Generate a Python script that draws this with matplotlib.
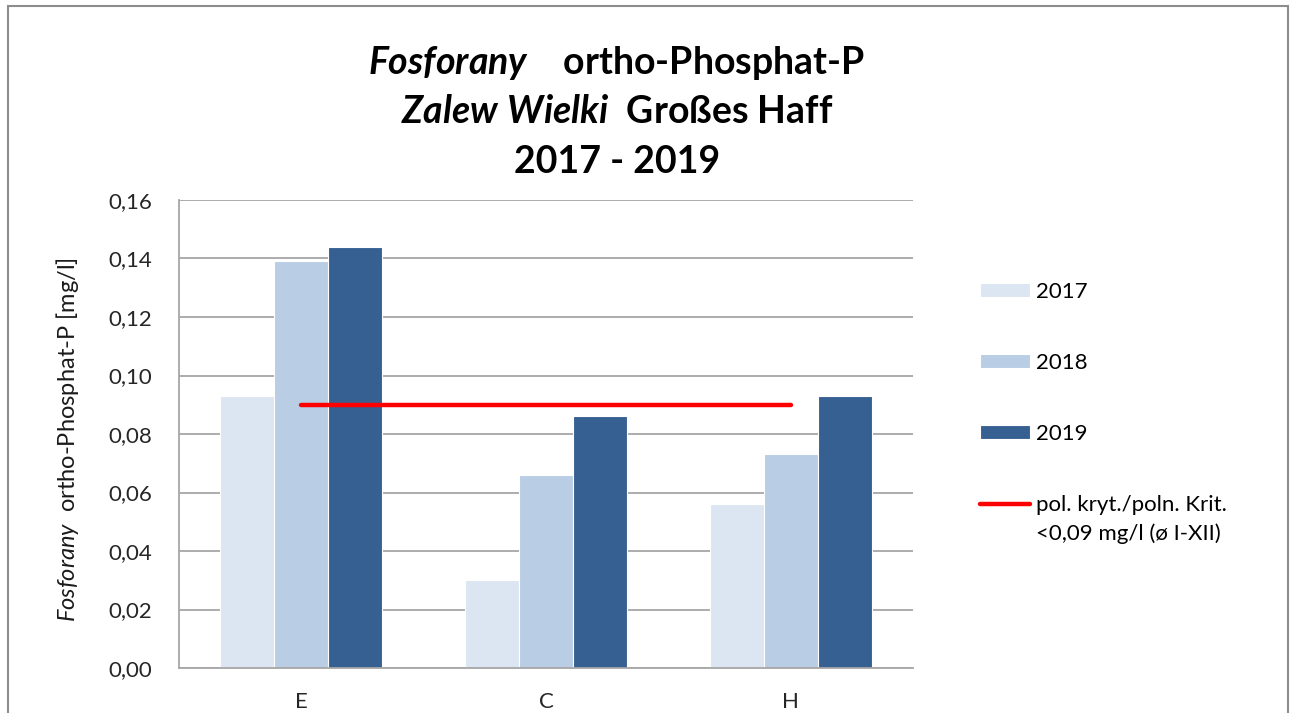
import matplotlib
matplotlib.use('Agg')
import matplotlib.pyplot as plt
import matplotlib.patches as patches
import numpy as np

# data
stations = ['E', 'C', 'H']
years = ['2017', '2018', '2019']
values_2017 = [0.093, 0.030, 0.056]
values_2018 = [0.139, 0.066, 0.073]
values_2019 = [0.144, 0.086, 0.093]
criterion = 0.09
yticks = [0.00, 0.02, 0.04, 0.06, 0.08, 0.10, 0.12, 0.14, 0.16]
ytick_labels = ['0,00', '0,02', '0,04', '0,06', '0,08', '0,10', '0,12', '0,14', '0,16']

colors = ['#DCE6F2', '#B9CDE5', '#366092']

plt.rcParams['font.family'] = ['Lato', 'DejaVu Sans']
plt.rcParams['mathtext.fontset'] = 'custom'
plt.rcParams['mathtext.it'] = 'Lato:italic'
plt.rcParams['mathtext.rm'] = 'Lato'
plt.rcParams['mathtext.bf'] = 'Lato:bold'
plt.rcParams['mathtext.bfit'] = 'Lato:italic:bold'

fig = plt.figure(figsize=(12.95, 7.13), dpi=100)
ax = fig.add_axes([179 / 1295, 1 - 668 / 713, (913 - 179) / 1295, (668 - 200) / 713])

# outer chart border (bottom edge is cut off in the original)
border = patches.Rectangle((8 / 1295, -0.1), 1280 / 1295, 1.1 - 6 / 713,
                           transform=fig.transFigure, fill=False,
                           edgecolor='#8C8C8C', linewidth=1.5, clip_on=False)
fig.patches.append(border)

x = np.arange(len(stations))
w = 0.221
series = [values_2017, values_2018, values_2019]
handles = []
for i, (vals, col, yr) in enumerate(zip(series, colors, years)):
    b = ax.bar(x + (i - 1) * w, vals, width=w, color=col,
               edgecolor='white', linewidth=0.8, label=yr, zorder=2)
    handles.append(b)

crit_line, = ax.plot(x, [criterion] * len(x), color='#FF0000', linewidth=3.2,
                     solid_capstyle='round', zorder=3,
                     label='pol. kryt./poln. Krit.')
handles.append(crit_line)

ax.set_xlim(-0.5, 2.5)
ax.set_ylim(0, 0.16)
ax.set_yticks(yticks)
ax.set_yticklabels(ytick_labels)
ax.set_xticks(x)
ax.set_xticklabels(stations)
ax.tick_params(axis='y', length=0, pad=19, labelsize=16, labelcolor='#262626')
ax.tick_params(axis='x', length=0, pad=17, labelsize=16, labelcolor='#262626')
ax.yaxis.grid(True, color='#A6A6A6', linewidth=1.3, zorder=0)
ax.set_axisbelow(True)
for side in ['top', 'right']:
    ax.spines[side].set_visible(False)
for side in ['left', 'bottom']:
    ax.spines[side].set_color('#A6A6A6')
    ax.spines[side].set_linewidth(1.3)

fig.text(68 / 1295, 1 - 440 / 713, r'$\mathit{Fosforany}$  ortho-Phosphat-P [mg/l]',
         rotation=90, ha='center', va='center', fontsize=17, color='#1a1a1a')

# title, three lines
title_x = 617 / 1295
fig.text(title_x, 1 - 63 / 713, r'$\mathbfit{Fosforany}$    ortho-Phosphat-P',
         ha='center', va='center', fontsize=27, fontweight='bold')
fig.text(title_x, 1 - 112 / 713, r'$\mathbfit{Zalew\ Wielki}$  Großes Haff',
         ha='center', va='center', fontsize=27, fontweight='bold')
fig.text(title_x, 1 - 162 / 713, '2017 - 2019',
         ha='center', va='center', fontsize=27, fontweight='bold')

leg = fig.legend(handles=handles, loc='upper left',
                 bbox_to_anchor=(980 / 1295, 1 - 282 / 713),
                 frameon=False, fontsize=16, handlelength=2.25, handleheight=0.58,
                 handletextpad=0.25, labelspacing=2.3, borderpad=0, borderaxespad=0)
texts = leg.get_texts()
ann = fig.text(0, 0, '<0,09 mg/l (ø I-XII)', fontsize=16)
fig.canvas.draw()
bb = texts[3].get_window_extent()
ann.set_position((bb.x0 / fig.bbox.width, (bb.y0 - 8) / fig.bbox.height))
ann.set_va('top')

plt.savefig('out.png', dpi=100)
